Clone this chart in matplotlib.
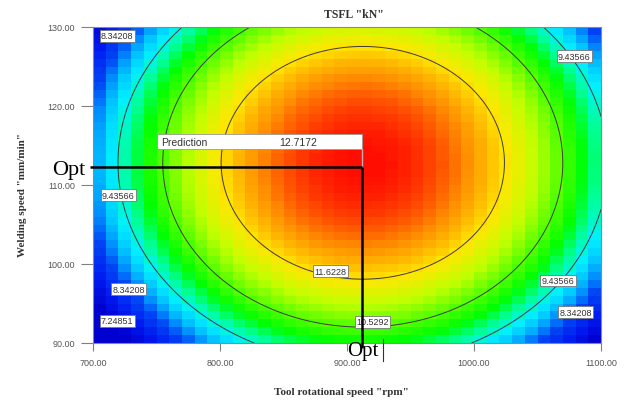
import numpy as np
import matplotlib
matplotlib.use('Agg')
import matplotlib.pyplot as plt
from matplotlib.colors import LinearSegmentedColormap, Normalize
from matplotlib.patches import Rectangle
from matplotlib.lines import Line2D

# fitted quadratic model for TSFL (coded factors A = rpm, B = welding speed)
b0, b1, b2 = 12.67, 0.44, 0.57
b11, b22, b12 = -3.54, -2.03, 0.0

rpm_lo, rpm_hi = 700, 1100
speed_lo, speed_hi = 90, 130
levels = [7.24851, 8.34208, 9.43566, 10.5292, 11.6228]

opt_rpm = 912
opt_speed = 112.3
prediction = 12.7172

x_ticks = [700, 800, 900, 1000, 1100]
y_ticks = [90, 100, 110, 120, 130]

# contour labels as they sit on the plot
label_levels = [8.34208, 9.43566, 8.34208, 7.24851, 11.6228, 10.5292, 9.43566, 8.34208, 9.43566]
label_rpm = [719, 720, 728, 719, 887, 920, 1066, 1080, 1079]
label_speed = [128.9, 108.7, 96.8, 92.8, 99.1, 92.7, 97.9, 93.9, 126.3]

# colour scale stops (response value -> colour)
stop_vals = [7.2, 7.8, 8.4, 8.7, 9.0, 9.3, 9.7, 10.1, 10.6, 11.1, 11.6, 12.15, 12.72]
stop_cols = ['#0000d0', '#0018f0', '#0046f5', '#008cff', '#00c8ff', '#00f0ff', '#00ff90',
             '#00ff00', '#5aff00', '#c0ff00', '#ffe600', '#ff8c00', '#ff0d00']


def tsfl(rpm, speed):
    A = (rpm - 900) / 200
    B = (speed - 110) / 20
    return b0 + b1 * A + b2 * B + b11 * A ** 2 + b22 * B ** 2 + b12 * A * B


vmin, vmax = stop_vals[0], stop_vals[-1]
pos = [(v - vmin) / (vmax - vmin) for v in stop_vals]
cmap = LinearSegmentedColormap.from_list('de', list(zip(pos, stop_cols)))

fig = plt.figure(figsize=(6.27, 4.06), dpi=100)
W, H = 627, 406
ax = fig.add_axes([93 / W, 1 - 344 / H, 508 / W, 316 / H])

# blocky 40 x 40 colour grid
n = 40
xe = np.linspace(rpm_lo, rpm_hi, n + 1)
ye = np.linspace(speed_lo, speed_hi, n + 1)
xc = (xe[:-1] + xe[1:]) / 2
yc = (ye[:-1] + ye[1:]) / 2
XC, YC = np.meshgrid(xc, yc)
ax.pcolormesh(xe, ye, tsfl(XC, YC), cmap=cmap, norm=Normalize(vmin, vmax), shading='flat')

# smooth contour lines (the two low ones get lost in the blue)
xf = np.linspace(rpm_lo, rpm_hi, 300)
yf = np.linspace(speed_lo, speed_hi, 300)
XF, YF = np.meshgrid(xf, yf)
line_cols = [(0.05, 0.1, 0.7, 0.15), (0.05, 0.15, 0.75, 0.2),
             '#3c3c3c', '#3c3c3c', '#3c3c3c']
ax.contour(XF, YF, tsfl(XF, YF), levels=levels, colors=line_cols, linewidths=0.7)

for lv, xr, ys in zip(label_levels, label_rpm, label_speed):
    ax.text(xr, ys, f'{lv:g}', fontsize=6.5, family='Liberation Sans', color='#333333',
            ha='center', va='center',
            bbox=dict(boxstyle='square,pad=0.15', fc='white', ec='#777777', lw=0.6))

ax.set_xlim(rpm_lo, rpm_hi)
ax.set_ylim(speed_lo, speed_hi)
ax.set_xticks(x_ticks)
ax.set_yticks(y_ticks)
ax.set_xticklabels([f'{t:.2f}' for t in x_ticks])
ax.set_yticklabels([f'{t:.2f}' for t in y_ticks])
ax.tick_params(axis='x', length=6, width=0.8, color='#808080', pad=5,
               labelsize=6.5, labelcolor='#555555')
ax.tick_params(axis='y', length=9, width=0.8, color='#808080', pad=4,
               labelsize=6.5, labelcolor='#555555')
for lab in ax.get_xticklabels() + ax.get_yticklabels():
    lab.set_family('Liberation Sans')
for sp in ax.spines.values():
    sp.set_color('#8a8a8a')
    sp.set_linewidth(0.8)

# prediction flag at the optimum
ax.add_patch(Rectangle((opt_rpm - 161.5, opt_speed + 2.25), 161.5, 1.9,
                       fc='white', ec='#999999', lw=0.6, zorder=5))
ax.text(opt_rpm - 158.5, opt_speed + 3.2, 'Prediction', fontsize=7.5, family='Liberation Sans',
        color='#333333', va='center', zorder=6)
ax.text(opt_rpm - 65, opt_speed + 3.2, f'{prediction:.4f}', fontsize=7.5, family='Liberation Sans',
        color='#333333', va='center', zorder=6)
ax.plot([opt_rpm, opt_rpm], [opt_speed + 2.25, opt_speed], color='#c8a6b4', lw=1, zorder=5)

# optimum cross-hair
ax.plot([698, opt_rpm], [opt_speed, opt_speed], color='black', lw=1.8, zorder=6, clip_on=False,
        solid_capstyle='butt')
ax.plot([opt_rpm, opt_rpm], [opt_speed, 89.4], color='black', lw=1.8, zorder=6, clip_on=False,
        solid_capstyle='butt')

fig.text(52 / W, 1 - 175 / H, 'Opt', fontsize=16, family='Liberation Serif', color='black',
         va='baseline', ha='left')
fig.text(347 / W, 1 - 356 / H, 'Opt', fontsize=15, family='Liberation Serif', color='black',
         va='baseline', ha='left')
fig.add_artist(Line2D([383 / W, 383 / W], [1 - 340 / H, 1 - 362 / H], color='#333333', lw=0.8))

fig.text(354 / W, 1 - 15 / H, 'TSFL "kN"', fontsize=8.5, family='Liberation Serif',
         weight='bold', color='#333333', ha='center', va='center')
fig.text(341 / W, 1 - 393 / H, 'Tool rotational speed "rpm"', fontsize=8, family='Liberation Serif',
         weight='bold', color='#333333', ha='center', va='center')
fig.text(23 / W, 1 - 195 / H, 'Welding speed "mm/min"', fontsize=8, family='Liberation Serif',
         weight='bold', color='#333333', ha='center', va='center', rotation=90)

fig.savefig('out.png', dpi=100)
